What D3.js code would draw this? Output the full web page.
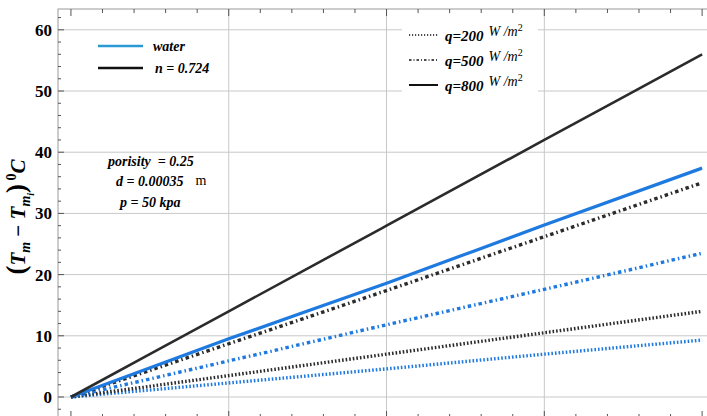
<!DOCTYPE html>
<html>
<head>
<meta charset="utf-8">
<script src="https://cdn.jsdelivr.net/npm/d3@7"></script>
<style>
  body { margin: 0; background: #fff; }
  svg { display: block; overflow: hidden; }
  text { font-family: "Liberation Serif", "Times New Roman", serif; }
</style>
</head>
<body>
<div id="chart"></div>
<script>
// data
const xs = [0, 5, 10, 15, 20];
const water200 = [0, 2.3, 4.6, 7.0, 9.3];
const water500 = [0, 5.9, 11.8, 17.6, 23.5];
const water800 = [0, 9.5, 18.6, 28.1, 37.4];
const n200 = [0, 3.5, 7.0, 10.5, 14.0];
const n500 = [0, 8.7, 17.4, 26.2, 35.0];
const n800 = [0, 14.0, 28.0, 42.0, 56.0];
const yTicks = [0, 10, 20, 30, 40, 50, 60];

const W = 707, H = 416;
const margin = {top: 9, left: 58};
const width = 652, height = 409;

const svg = d3.select("#chart").append("svg")
    .attr("width", W).attr("height", H);
const g = svg.append("g")
    .attr("transform", `translate(${margin.left}, ${margin.top})`);

const x = d3.scaleLinear().domain([-0.41, 20.25]).range([0, width]);
const y = d3.scaleLinear().domain([-3.43, 63.4]).range([height, 0]);

// grid
g.selectAll(".hgrid").data(yTicks).join("line")
    .attr("x1", 0).attr("x2", width)
    .attr("y1", d => y(d)).attr("y2", d => y(d))
    .attr("stroke", "#c8c8c8").attr("stroke-width", 1);
g.selectAll(".vgrid").data([5, 10, 15]).join("line")
    .attr("y1", 0).attr("y2", height)
    .attr("x1", d => x(d)).attr("x2", d => x(d))
    .attr("stroke", "#c8c8c8").attr("stroke-width", 1);

// frame
g.append("rect").attr("width", width).attr("height", height)
    .attr("fill", "none").attr("stroke", "#9a9a9a");

// ticks
const xMinor = d3.range(0, 21, 1);
g.selectAll(".xt").data(xMinor).join("line")
    .attr("x1", d => x(d)).attr("x2", d => x(d))
    .attr("y1", 0).attr("y2", d => d % 5 === 0 ? 7 : 4)
    .attr("stroke", "#555");
g.selectAll(".xb").data(xMinor).join("line")
    .attr("x1", d => x(d)).attr("x2", d => x(d))
    .attr("y1", height).attr("y2", d => height - (d % 5 === 0 ? 7 : 4))
    .attr("stroke", "#555");
const yMinor = d3.range(-2, 64, 2);
g.selectAll(".yt").data(yMinor).join("line")
    .attr("x1", 0).attr("x2", d => d % 10 === 0 ? 6 : 3)
    .attr("y1", d => y(d)).attr("y2", d => y(d))
    .attr("stroke", "#555");

g.selectAll(".ylab").data(yTicks).join("text")
    .attr("x", -6).attr("y", d => y(d) + 6)
    .attr("text-anchor", "end")
    .attr("font-weight", "bold").attr("font-size", 17)
    .text(d => d);

// y axis title
const yt = svg.append("text")
    .attr("transform", "translate(25, 217) rotate(-90)")
    .attr("text-anchor", "middle")
    .attr("font-weight", "bold").attr("font-style", "italic")
    .attr("font-size", 21);
yt.append("tspan").attr("font-style", "normal").attr("font-size", 27).text("(");
yt.append("tspan").text("T");
yt.append("tspan").attr("font-size", 14).attr("dy", 5).text("m");
yt.append("tspan").attr("dy", -5).attr("font-style", "normal").text("\u00a0\u2212\u00a0");
yt.append("tspan").text("T");
yt.append("tspan").attr("font-size", 14).attr("dy", 5).text("m");
yt.append("tspan").attr("font-size", 10).attr("dy", 4).text("i");
yt.append("tspan").attr("dy", -9).attr("font-style", "normal").attr("font-size", 27).text(")");
yt.append("tspan").attr("font-size", 14).attr("dy", -9).attr("font-style", "normal").text("\u00a00");
yt.append("tspan").attr("dy", 9).text("C");

// series
const blue = "#1f7ae0", dark = "#2b2b2b";
const dots = "1.6,2", dashdot = "3.5,3,1.5,3";
const series = [
  {v: water200, c: blue, dash: dots, w: 3.4},
  {v: n200, c: dark, dash: dots, w: 3.4},
  {v: water500, c: blue, dash: dashdot, w: 3.4},
  {v: n500, c: dark, dash: dashdot, w: 3.4},
  {v: water800, c: blue, dash: null, w: 3.2},
  {v: n800, c: dark, dash: null, w: 2.6}
];
const line = d3.line().curve(d3.curveMonotoneX).x((d, i) => x(xs[i])).y(d => y(d));
g.selectAll(".series").data(series).join("path")
    .attr("d", d => line(d.v))
    .attr("fill", "none")
    .attr("stroke", d => d.c)
    .attr("stroke-width", d => d.w)
    .attr("stroke-dasharray", d => d.dash);

// legend left
const legL = [{label: "water", c: "#2a9ad6"}, {label: "n = 0.724", c: "#111"}];
legL.forEach((d, i) => {
  const yy = 46 + i * 22;
  svg.append("line").attr("x1", 98).attr("x2", 143).attr("y1", yy).attr("y2", yy)
      .attr("stroke", d.c).attr("stroke-width", 2.4);
  svg.append("text").attr("x", 153 + (i ? 2 : 0)).attr("y", yy + 5)
      .attr("font-weight", "bold").attr("font-style", "italic").attr("font-size", 14)
      .text(d.label);
});

// legend right
svg.append("rect").attr("x", 402).attr("y", 14).attr("width", 136).attr("height", 82)
    .attr("fill", "#fff");
const legR = [{q: 200, dash: "1.2,1.8"}, {q: 500, dash: "2.5,2,1,2"}, {q: 800, dash: null}];
legR.forEach((d, i) => {
  const yy = 35 + i * 25;
  svg.append("line").attr("x1", 409).attr("x2", 438).attr("y1", yy).attr("y2", yy)
      .attr("stroke", "#111").attr("stroke-width", d.dash ? 1.6 : 2)
      .attr("stroke-dasharray", d.dash);
  const t = svg.append("text").attr("x", 445).attr("y", yy + 6)
      .attr("font-size", 15);
  t.append("tspan").attr("font-weight", "bold").attr("font-style", "italic").text("q=" + d.q);
  t.append("tspan").attr("font-style", "italic").attr("font-size", 14).attr("dx", 5).attr("dy", -5).text("W /m");
  t.append("tspan").attr("font-size", 10).attr("dy", -5).text("2");
});

// annotation
const notes = [
  {t: "porisity\u00a0\u00a0= 0.25", x: 108, y: 166},
  {t: "d = 0.00035", x: 116, y: 186, unit: "m"},
  {t: "p = 50 kpa", x: 120, y: 207}
];
notes.forEach(d => {
  const t = svg.append("text").attr("x", d.x).attr("y", d.y)
      .attr("font-weight", "bold").attr("font-style", "italic").attr("font-size", 14)
      .text(d.t);
  if (d.unit) t.append("tspan").attr("dx", 12).attr("dy", -1).attr("font-weight", "normal")
      .attr("font-style", "normal").text(d.unit);
});
</script>
</body>
</html>
